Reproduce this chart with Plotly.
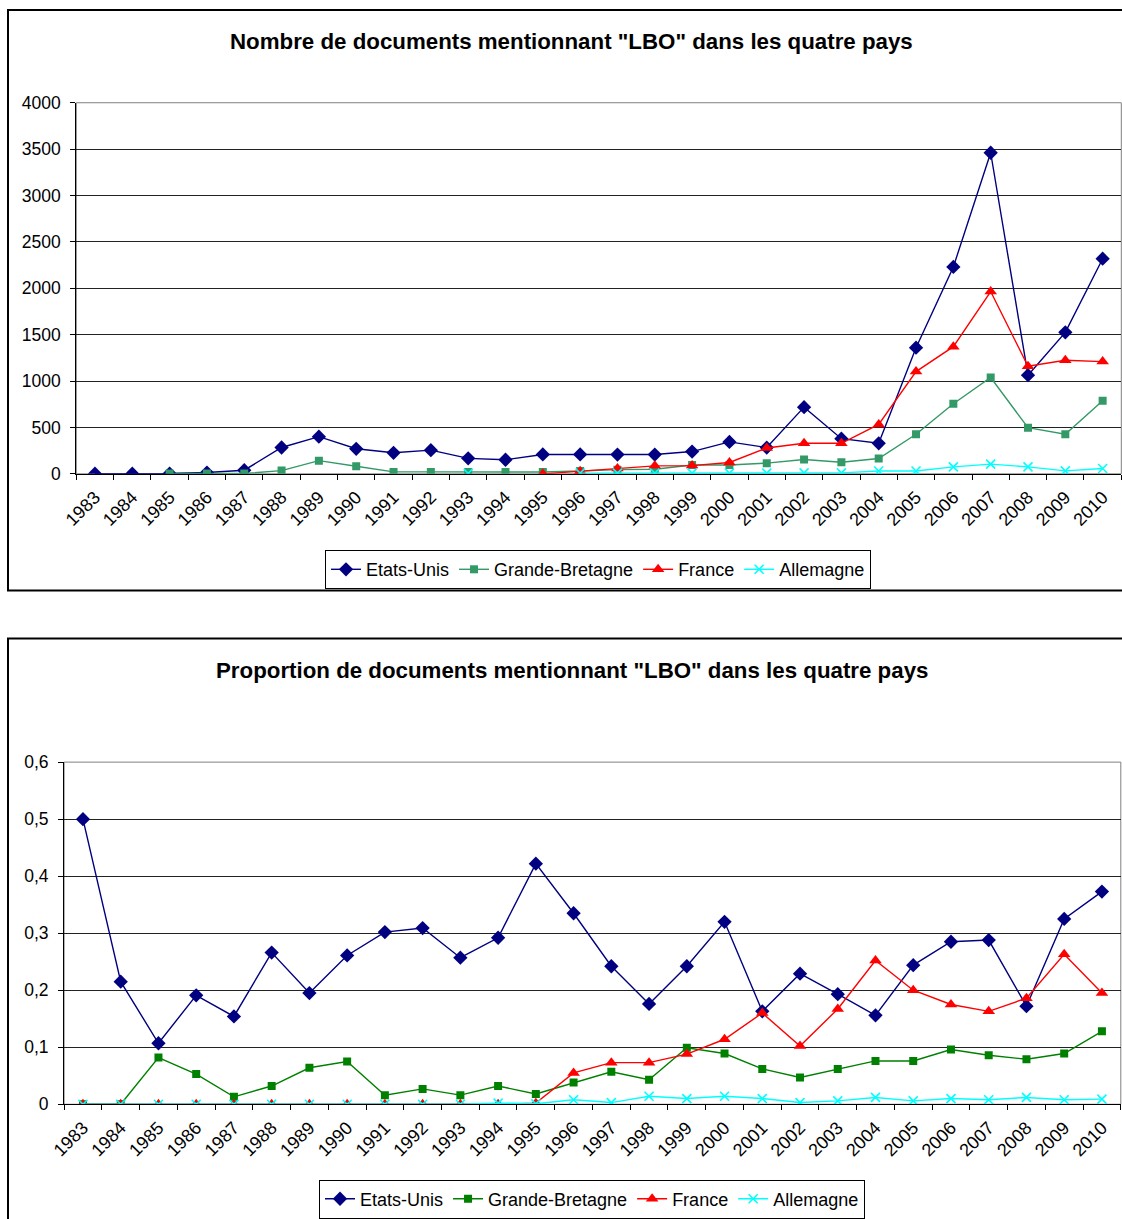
import plotly.graph_objects as go

# ---------------- data ----------------
years = [1983, 1984, 1985, 1986, 1987, 1988, 1989, 1990, 1991, 1992, 1993, 1994, 1995, 1996,
         1997, 1998, 1999, 2000, 2001, 2002, 2003, 2004, 2005, 2006, 2007, 2008, 2009, 2010]
year_labels = ["1983", "1984", "1985", "1986", "1987", "1988", "1989", "1990", "1991", "1992",
               "1993", "1994", "1995", "1996", "1997", "1998", "1999", "2000", "2001", "2002",
               "2003", "2004", "2005", "2006", "2007", "2008", "2009", "2010"]
series_names = ["Etats-Unis", "Grande-Bretagne", "France", "Allemagne"]

# Chart 1: number of documents
us_count = [1, 1, 3, 14, 39, 284, 401, 270, 227, 255, 167, 152, 209, 209,
            208, 208, 240, 344, 283, 719, 379, 329, 1360, 2230, 3461, 1063, 1525, 2319]
gb_count = [None, None, 3, 3, 3, 35, 142, 82, 21, 21, 21, 21, 20, 30,
            45, 50, 95, 95, 115, 155, 125, 165, 426, 755, 1038, 497, 426, 787]
fr_count = [None, None, None, None, None, None, None, None, None, None, None, None, 0, 29,
            57, 86, 89, 122, 279, 329, 329, 533, 1102, 1371, 1965, 1160, 1224, 1210]
de_count = [None, None, None, None, None, None, None, None, None, None, 5, None, None, 8,
            8, 8, 8, 8, 8, 10, 10, 30, 30, 75, 105, 75, 32, 57]
count_ticks = [0, 500, 1000, 1500, 2000, 2500, 3000, 3500, 4000]
count_tick_labels = ["0", "500", "1000", "1500", "2000", "2500", "3000", "3500", "4000"]

# Chart 2: proportion of documents
us_share = [0.500, 0.215, 0.107, 0.191, 0.154, 0.266, 0.195, 0.261, 0.302, 0.309, 0.257, 0.292, 0.422, 0.335,
            0.242, 0.176, 0.242, 0.320, 0.163, 0.229, 0.193, 0.156, 0.244, 0.285, 0.288, 0.172, 0.325, 0.373]
gb_share = [0, 0, 0.082, 0.053, 0.013, 0.032, 0.064, 0.075, 0.016, 0.027, 0.016, 0.032, 0.018, 0.038,
            0.057, 0.043, 0.099, 0.089, 0.062, 0.047, 0.062, 0.076, 0.076, 0.096, 0.086, 0.079, 0.089, 0.128]
fr_share = [0, 0, 0, 0, 0, 0, 0, 0, 0, 0, 0, 0, 0.002, 0.055,
            0.073, 0.073, 0.088, 0.114, 0.160, 0.102, 0.167, 0.252, 0.200, 0.175, 0.163, 0.186, 0.263, 0.195]
de_share = [0, 0, 0, 0, 0, 0, 0, 0, 0, 0, 0, 0.002, 0.001, 0.008,
            0.003, 0.014, 0.010, 0.014, 0.010, 0.003, 0.006, 0.012, 0.006, 0.010, 0.008, 0.012, 0.008, 0.009]
share_ticks = [0, 0.1, 0.2, 0.3, 0.4, 0.5, 0.6]
share_tick_labels = ["0", "0,1", "0,2", "0,3", "0,4", "0,5", "0,6"]

title1 = 'Nombre de documents mentionnant "LBO" dans les quatre pays'
title2 = 'Proportion de documents mentionnant "LBO" dans les quatre pays'

# ---------------- layout helpers ----------------
W, H = 1122, 1219
FONT = "Liberation Sans, Arial, sans-serif"


def px(x):
    return x / W


def py(y):
    return 1 - y / H


NAVY = "#000080"
SEAGREEN = "#339966"
GREEN = "#008000"
RED = "#FF0000"
CYAN = "#00FFFF"

fig = go.Figure()


def add_series(y, name, color, symbol, size, xa, ya, legend):
    marker = dict(symbol=symbol, size=size, color=color)
    if symbol.startswith("x-thin"):
        marker["line"] = dict(color=color, width=1.6)
    fig.add_trace(go.Scatter(
        x=years, y=y, name=name, mode="lines+markers",
        line=dict(color=color, width=1.4), marker=marker,
        xaxis=xa, yaxis=ya, legend=legend, connectgaps=False,
    ))


add_series(us_count, series_names[0], NAVY, "diamond", 11, "x", "y", "legend")
add_series(gb_count, series_names[1], SEAGREEN, "square", 8, "x", "y", "legend")
add_series(fr_count, series_names[2], RED, "triangle-up", 11, "x", "y", "legend")
add_series(de_count, series_names[3], CYAN, "x-thin", 9, "x", "y", "legend")

add_series(us_share, series_names[0], NAVY, "diamond", 11, "x2", "y2", "legend2")
add_series(gb_share, series_names[1], GREEN, "square", 8, "x2", "y2", "legend2")
add_series(fr_share, series_names[2], RED, "triangle-up", 11, "x2", "y2", "legend2")
add_series(de_share, series_names[3], CYAN, "x-thin", 9, "x2", "y2", "legend2")

xaxis_common = dict(
    range=[1982.5, 2010.5], tickmode="array", tickvals=years, ticktext=year_labels,
    tickangle=-45, ticks="", showgrid=False, zeroline=False, automargin=False,
    showline=True, linecolor="black", linewidth=1,
    tickfont=dict(family=FONT, size=18, color="black"), ticklabelstandoff=5,
    minor=dict(tick0=1982.5, dtick=1, ticks="outside", ticklen=5, tickcolor="black", tickwidth=1, showgrid=False),
)
yaxis_common = dict(
    tickmode="array", ticks="outside", ticklen=5, tickcolor="black", tickwidth=1,
    showgrid=True, gridcolor="#222222", gridwidth=1, zeroline=False, automargin=False,
    showline=True, linecolor="black", linewidth=1,
    tickfont=dict(family=FONT, size=17.5, color="black"), ticklabelstandoff=6,
)

fig.update_layout(
    width=W, height=H, autosize=False,
    margin=dict(l=0, r=0, t=0, b=0),
    paper_bgcolor="white", plot_bgcolor="white",
    font=dict(family=FONT, color="black"),
    xaxis=dict(domain=[px(76.3), px(1121.3)], anchor="y", **xaxis_common),
    yaxis=dict(domain=[py(475), py(103)], anchor="x", range=[0, 4000],
               tickvals=count_ticks, ticktext=count_tick_labels, **yaxis_common),
    xaxis2=dict(domain=[px(64.1), px(1120.8)], anchor="y2", **xaxis_common),
    yaxis2=dict(domain=[py(1107), py(764)], anchor="x2", range=[0, 0.6],
                tickvals=share_ticks, ticktext=share_tick_labels, **yaxis_common),
    legend=dict(orientation="h", x=px(598), y=py(571), xanchor="center", yanchor="middle",
                bordercolor="black", borderwidth=1, bgcolor="white",
                font=dict(family=FONT, size=18, color="black"), itemwidth=30),
    legend2=dict(orientation="h", x=px(592), y=py(1202), xanchor="center", yanchor="middle",
                 bordercolor="black", borderwidth=1, bgcolor="white",
                 font=dict(family=FONT, size=18, color="black"), itemwidth=30),
    showlegend=True,
)

# titles
fig.add_annotation(text="<b>" + title1 + "</b>", x=px(571), y=py(42), xref="paper", yref="paper",
                   showarrow=False, xanchor="center", yanchor="middle",
                   font=dict(family=FONT, size=22.3, color="black"))
fig.add_annotation(text="<b>" + title2 + "</b>", x=px(572), y=py(672), xref="paper", yref="paper",
                   showarrow=False, xanchor="center", yanchor="middle",
                   font=dict(family=FONT, size=22.3, color="black"))

# outer chart borders
fig.add_shape(type="rect", xref="paper", yref="paper", x0=px(8), x1=px(1140), y0=py(592), y1=py(10),
              line=dict(color="black", width=2), layer="below")
fig.add_shape(type="rect", xref="paper", yref="paper", x0=px(8), x1=px(1140), y0=py(1240), y1=py(640),
              line=dict(color="black", width=2), layer="below")
# plot area borders (gray)
fig.add_shape(type="rect", xref="paper", yref="paper", x0=px(76.3), x1=px(1121.3), y0=py(475), y1=py(103),
              line=dict(color="#808080", width=1), layer="below")
fig.add_shape(type="rect", xref="paper", yref="paper", x0=px(64.1), x1=px(1120.8), y0=py(1107), y1=py(764),
              line=dict(color="#808080", width=1), layer="below")

fig.write_html("out.html", config={"displayModeBar": False},
               post_script="document.body.style.margin='0';")
